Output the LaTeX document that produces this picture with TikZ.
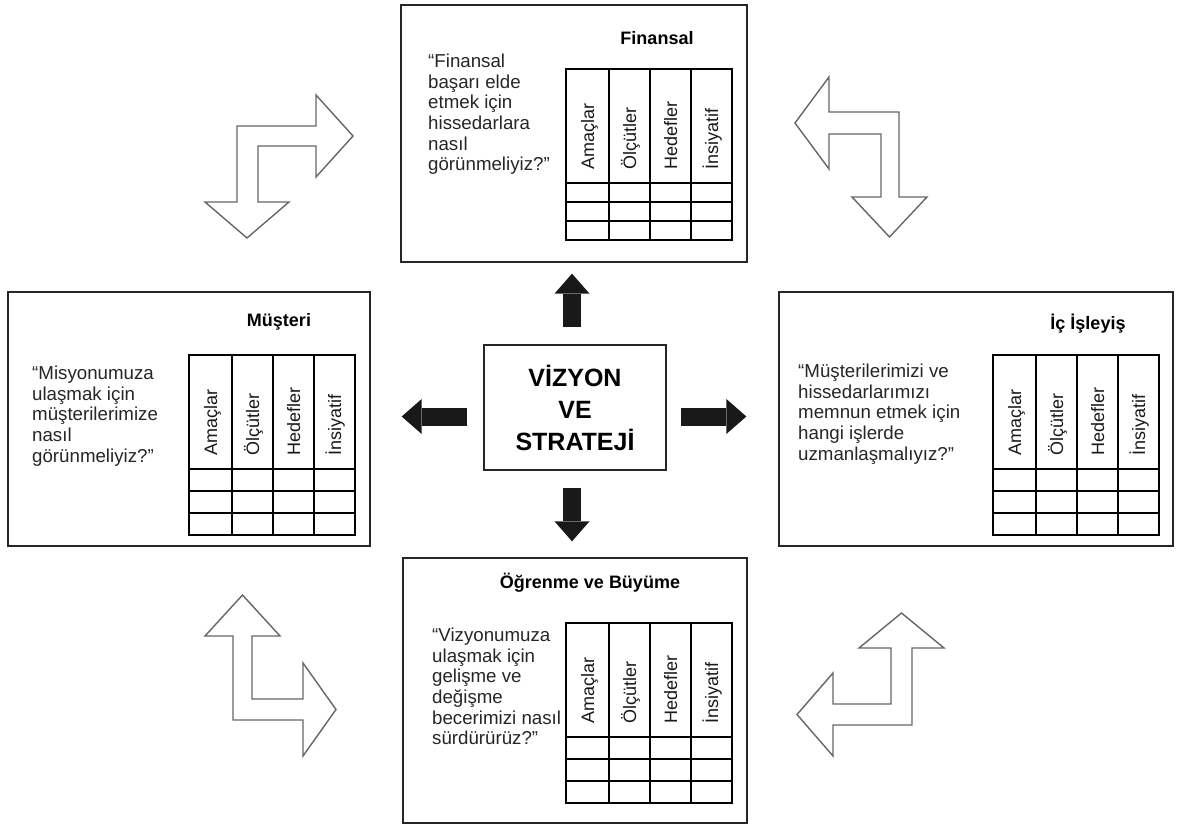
\documentclass[tikz,border=0pt]{standalone}
\usepackage{fontspec}
\setmainfont{Liberation Sans}
\usetikzlibrary{arrows.meta,calc}
\tikzset{
 box/.style={draw=black!85, line width=1.3pt, inner sep=0pt, fill=white},
 tbl/.style={draw=black, line width=1.2pt},
 hdr/.style={rotate=90, anchor=base west, inner sep=0pt, font=\fontsize{18}{20}\selectfont, text=black!90},
 ttl/.style={inner sep=0pt, font=\bfseries\fontsize{18}{20}\selectfont},
 body/.style={anchor=north west, inner sep=0pt, align=left, font=\fontsize{18.7}{20.6}\selectfont, text=black!85},
 blk/.style={line width=18pt, draw=black!90, -{Triangle[length=20pt,width=35pt,line width=0pt]}},
 hol/.style={draw=black!60, line width=1.4pt, fill=white, line join=miter},
}
\newcommand{\bsctab}[3]{%
 \begin{scope}[shift={(#1,-#2)}]
  \draw[tbl] (0,0) rectangle (166,{-114-3*#3});
  \foreach \xx in {43,84,125} \draw[tbl] (\xx,0) -- (\xx,{-114-3*#3});
  \foreach \kk in {0,1,2} \draw[tbl] (0,{-114-\kk*#3}) -- (166,{-114-\kk*#3});
  \foreach \cc/\tt in {21.5/Amaçlar,63.5/Ölçütler,104.5/Hedefler,145.5/İnsiyatif}
   \node[hdr] at ({\cc+6.5},-101) {\tt};
 \end{scope}}
\begin{document}
\begin{tikzpicture}[x=1pt,y=1pt]
\useasboundingbox[fill=white] (0,0) rectangle (1181,-826);

% boxes
\node[box, minimum width=346pt, minimum height=257pt] (fin) at (574,-133.5) {};
\node[box, minimum width=362pt, minimum height=254pt] (mus) at (189,-419) {};
\node[box, minimum width=394pt, minimum height=254pt] (ic) at (976,-419) {};
\node[box, minimum width=344pt, minimum height=265pt] (ogr) at (575,-690.5) {};
\node[box, minimum width=182pt, minimum height=125pt, align=center,
      font=\bfseries\fontsize{25}{32}\selectfont] (ctr) at (575,-407.5) {VİZYON\\VE\\STRATEJİ};

% titles
\node[ttl] (tfin) at (657,-38) {Finansal};
\node[ttl] (tmus) at (279,-322) {Müşteri};
\node[ttl] (tic) at (1088,-324) {İç İşleyiş};
\node[ttl] (togr) at (590,-583) {Öğrenme ve Büyüme};

% questions
\node[body] (qfin) at (428,-54) {“Finansal\\başarı elde\\etmek için\\hissedarlara\\nasıl\\görünmeliyiz?”};
\node[body] (qmus) at (32,-366) {“Misyonumuza\\ulaşmak için\\müşterilerimize\\nasıl\\görünmeliyiz?”};
\node[body] (qic) at (798,-364) {“Müşterilerimizi ve\\hissedarlarımızı\\memnun etmek için\\hangi işlerde\\uzmanlaşmalıyız?”};
\node[body] (qogr) at (432,-628) {“Vizyonumuza\\ulaşmak için\\gelişme ve\\değişme\\becerimizi nasıl\\sürdürürüz?”};

% tables
\bsctab{566}{69}{19}
\bsctab{189}{355}{22}
\bsctab{993}{355}{22}
\bsctab{566}{623}{22}

% black arrows from the centre
\coordinate (aU1) at ($(ctr.north)+(-3,17)$);
\coordinate (aU2) at ($(fin.south)+(-2,-11)$);
\draw[blk] (aU1) -- (aU2);
\coordinate (aD1) at ($(ctr.south)+(-3,-17)$);
\coordinate (aD2) at ($(ogr.north)+(-3,16)$);
\draw[blk] (aD1) -- (aD2);
\coordinate (aL1) at ($(ctr.west)+(-16,-9)$);
\coordinate (aL2) at ($(aL1 -| mus.east)+(31,0)$);
\draw[blk] (aL1) -- (aL2);
\coordinate (aR1) at ($(ctr.east)+(14,-9)$);
\coordinate (aR2) at ($(aR1 -| ic.west)+(-32,0)$);
\draw[blk] (aR1) -- (aR2);

% hollow turn arrows
\draw[hol] (237,-202) -- (205,-202) -- (247,-238) -- (289,-202) -- (258,-202) -- (258,-146)
  -- (316,-146) -- (316,-177) -- (353,-136) -- (316,-95) -- (316,-126) -- (237,-126) -- cycle;
\draw[hol] (795,-123) -- (829,-77) -- (829,-112) -- (899,-112) -- (899,-197) -- (927,-197)
  -- (889.5,-237) -- (852,-197) -- (881,-197) -- (881,-134) -- (829,-134) -- (829,-169) -- cycle;
\draw[hol] (233,-720) -- (233,-636) -- (205,-636) -- (242.5,-595) -- (280,-636) -- (252,-636)
  -- (252,-699) -- (303,-699) -- (303,-663) -- (336,-709.5) -- (303,-756) -- (303,-720) -- cycle;
\draw[hol] (912,-725) -- (912,-648) -- (944,-648) -- (901.5,-613) -- (859,-648) -- (891,-648)
  -- (891,-704) -- (833,-704) -- (833,-673) -- (797,-714.5) -- (833,-756) -- (833,-725) -- cycle;
\end{tikzpicture}
\end{document}
